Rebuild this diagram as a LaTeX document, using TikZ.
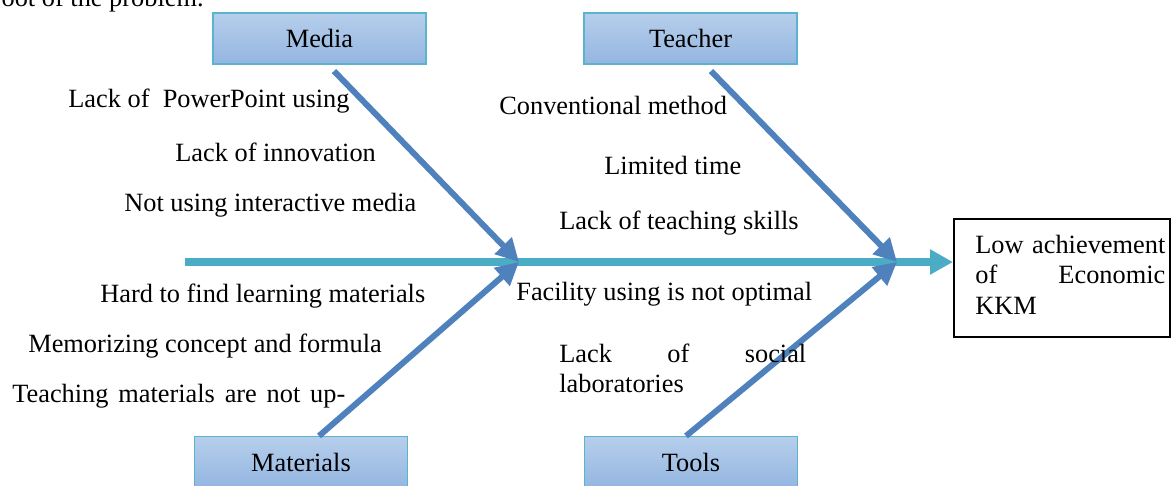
\documentclass[tikz,border=0pt]{standalone}
\usepackage{fontspec}
\setmainfont{Liberation Serif}
\usetikzlibrary{arrows.meta}

\definecolor{spineblue}{RGB}{75,172,198}
\definecolor{boneblue}{RGB}{79,129,189}
\definecolor{boxtop}{RGB}{182,206,235}
\definecolor{boxbottom}{RGB}{148,182,225}
\definecolor{boxline}{RGB}{90,180,205}

\tikzset{
	cause/.style={rectangle, top color=boxtop, bottom color=boxbottom, draw=boxline, line width=0.6pt, minimum width=4.26cm, minimum height=1.02cm, inner sep=0pt},
	reason/.style={anchor=base west, inner sep=0pt},
	bone/.style={boneblue, line width=3.4pt, -{Triangle[length=13pt,width=13pt]}},
	spine/.style={spineblue, line width=4pt, -{Triangle[length=13pt,width=13.5pt]}}
}

\begin{document}
\begin{tikzpicture}[x=0.02cm, y=-0.02cm, font=\fontsize{15}{17.4}\selectfont]
		\useasboundingbox (0,0) rectangle (1171,485);
		\node[anchor=base east, inner sep=0pt] (root) at (204,6) {root of the problem.};
		
		% the four categories
		\node[cause] (media) at (319.5,38.5) {Media};
		\node[cause] (teacher) at (690.5,38.5) {Teacher};
		\node[cause] (materials) at (301,462) {Materials};
		\node[cause] (tools) at (691,462) {Tools};
		
		% the effect
		\node[draw, line width=1.1pt, anchor=north west, minimum width=4.32cm, minimum height=2.36cm, inner sep=0pt] (kkm) at (953,218) {};
		\node[reason, text width=3.8cm, align=left] (kkmtext) at (975,253) {\makebox[3.8cm]{Low\hfill achievement}\\\makebox[3.8cm]{of\hfill Economic}\\KKM};
		
		% spine and bones
		\coordinate (tail) at (185,262);
		\coordinate (jleft) at (519,262);
		\coordinate (jright) at (897,262);
		\draw[spine] (tail) -- (tail -| kkm.west);
		\draw[bone] ([xshift=0.29cm,yshift=-0.13cm]media.south) -- (jleft);
		\draw[bone] ([xshift=0.41cm,yshift=-0.13cm]teacher.south) -- (jright);
		\draw[bone] ([xshift=0.36cm]materials.north) -- (jleft);
		\draw[bone] ([xshift=-0.1cm]tools.north) -- (jright);
		
		% causes
		\node[reason] (ppt) at (68,107) {Lack of~ PowerPoint using};
		\node[reason] (innov) at (175,161) {Lack of innovation};
		\node[reason] (interact) at (124,211) {Not using interactive media};
		\node[reason] (method) at (499,114) {Conventional method};
		\node[reason] (time) at (604,174) {Limited time};
		\node[reason] (skills) at (559,229) {Lack of teaching skills};
		\node[reason] (hard) at (100,302) {Hard to find learning materials};
		\node[reason] (memo) at (28,352) {Memorizing concept and formula};
		\node[reason] (uptodate) at (12,402) {\makebox[6.66cm]{Teaching\hfill materials\hfill are\hfill not\hfill up-}};
		\node[reason] (facility) at (516,300) {Facility using is not optimal};
		\node[reason, text width=4.94cm, align=left] (lab) at (559,362) {\makebox[4.94cm]{Lack\hfill of\hfill social}\\laboratories};
		
	\end{tikzpicture}
\end{document}
